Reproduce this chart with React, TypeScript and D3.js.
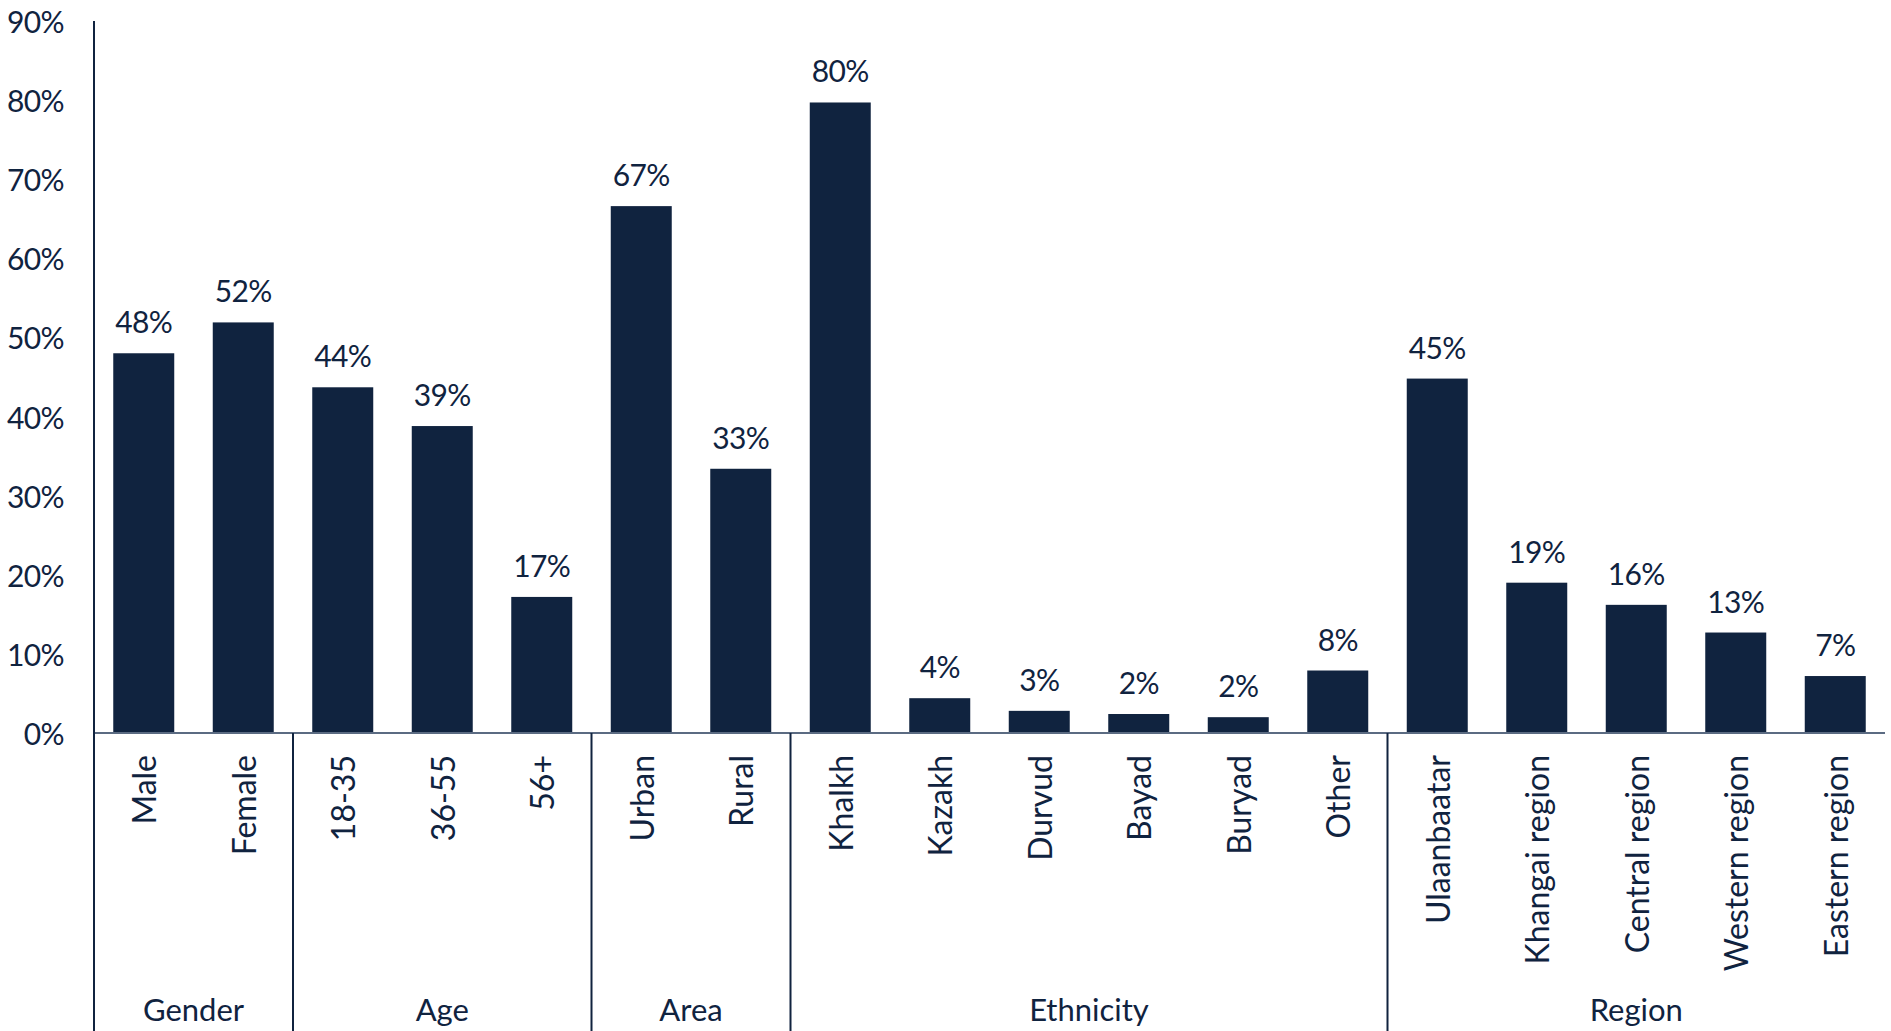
import React from "react";
import * as d3 from "d3";

const categories = ["Male","Female","18-35","36-55","56+","Urban","Rural","Khalkh","Kazakh","Durvud","Bayad","Buryad","Other","Ulaanbaatar","Khangai region","Central region","Western region","Eastern region"];
const values = [48.0,51.9,43.7,38.8,17.2,66.6,33.4,79.7,4.4,2.8,2.4,2.0,7.9,44.8,19.0,16.2,12.7,7.2];
const valueLabels = ["48%","52%","44%","39%","17%","67%","33%","80%","4%","3%","2%","2%","8%","45%","19%","16%","13%","7%"];
const groupNames = ["Gender","Age","Area","Ethnicity","Region"];
const groupSizes = [2,3,2,6,5];
const yTicks = [0,10,20,30,40,50,60,70,80,90];

const W = 1891, H = 1031;
const left = 94, right = 1885, top = 21, base = 733;
const navy = "#10233f";
const font = "Lato, 'Open Sans', sans-serif";
const numFs = 30;
const catFs = 32;
const grpFs = 31;

export default function App() {
  const x = d3.scaleBand<string>().domain(categories).range([left, right]).paddingInner(0.387).paddingOuter(0.1935);
  const y = d3.scaleLinear().domain([0, 90]).range([base, top]);
  const step = x.step();
  const bw = x.bandwidth();
  let acc = 0;
  const groups = groupNames.map((g, i) => {
    const start = acc;
    acc += groupSizes[i];
    return { name: g, x0: left + start * step, x1: left + acc * step };
  });
  return (
    <svg width={W} height={H} style={{ position: "absolute", left: 0, top: 0, display: "block", background: "#fff" }}>
      {yTicks.map(t => (
        <text key={t} x={64} y={y(t)} textAnchor="end" dominantBaseline="central" fontFamily={font} fontSize={numFs} letterSpacing={-0.6} fill={navy}>{t}%</text>
      ))}
      {categories.map((c, i) => (
        <rect key={c} x={x(c)} y={y(values[i])} width={bw} height={base - y(values[i])} fill={navy} />
      ))}
      {categories.map((c, i) => (
        <text key={"v" + c} x={(x(c) as number) + bw / 2} y={y(values[i]) - 20} textAnchor="middle" fontFamily={font} fontSize={numFs} letterSpacing={-0.6} fill={navy}>{valueLabels[i]}</text>
      ))}
      {categories.map(c => (
        <text key={"c" + c} transform={`translate(${(x(c) as number) + bw / 2},${base + 22}) rotate(-90)`} textAnchor="end" dominantBaseline="central" fontFamily={font} fontSize={catFs} fill={navy}>{c}</text>
      ))}
      <line x1={left} x2={right} y1={base} y2={base} stroke="#5b6b82" strokeWidth={2} />
      <line x1={left} x2={left} y1={top} y2={H} stroke={navy} strokeWidth={2} />
      {groups.slice(1).map(g => (
        <line key={"s" + g.name} x1={g.x0} x2={g.x0} y1={base} y2={H} stroke={navy} strokeWidth={2} />
      ))}
      {groups.map(g => (
        <text key={"g" + g.name} x={(g.x0 + g.x1) / 2} y={1021} textAnchor="middle" fontFamily={font} fontSize={grpFs} fill={navy}>{g.name}</text>
      ))}
    </svg>
  );
}
